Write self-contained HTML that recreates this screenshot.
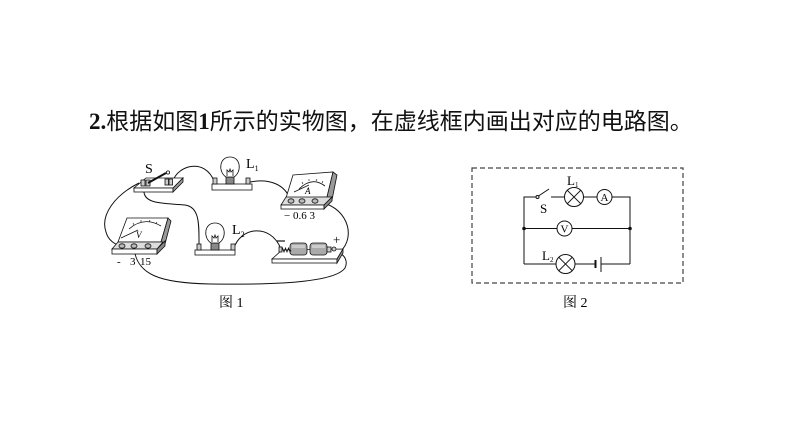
<!DOCTYPE html>
<html>
<head>
<meta charset="utf-8">
<style>
  html,body{margin:0;padding:0;background:#fff;}
  body{width:794px;height:447px;overflow:hidden;}
  svg{display:block;}
  .ser{font-family:"Liberation Serif","Noto Serif CJK SC",serif;}
  .cjk{font-family:"Liberation Sans","Noto Sans CJK SC",sans-serif;}
  .cjks{font-family:"Liberation Serif","Noto Serif CJK SC",serif;}
</style>
</head>
<body>
<svg width="794" height="447" viewBox="0 0 794 447" xmlns="http://www.w3.org/2000/svg">
  <rect width="794" height="447" fill="#fff"/>

  <!-- Title -->
  <text x="89" y="129" font-size="23" fill="#111"><tspan class="ser" font-weight="bold">2.</tspan><tspan class="cjk">根据如图</tspan><tspan class="ser" font-weight="bold">1</tspan><tspan class="cjk">所示的实物图，在虚线框内画出对应的电路图。</tspan></text>

  <!-- ============ Figure 1 ============ -->
  <g fill="none" stroke="#111" stroke-width="1">
    <!-- wires -->
    <path d="M173,181 C178,165 205,158 214,181"/>
    <path d="M250,182 C270,178 285,185 290,199"/>
    <path d="M318,202 C345,205 358,235 340,252"/>
    <path d="M139,183 C115,195 100,215 106,232 C108,240 115,245 122,246"/>
    <path d="M144,189 C142,205 165,203 185,205 C200,207 199,225 199,247"/>
    <path d="M234,248 C240,228 270,222 281,249"/>
    <path d="M134,247 C136,275 160,283 210,284 C280,285 335,282 345,268 C348,262 345,256 341,254"/>
  </g>

  <!-- Switch S -->
  <g stroke="#111" stroke-width="0.8">
    <polygon points="146,178 183,178 173,188 134,188" fill="#fff"/>
    <rect x="134" y="188" width="39" height="4" fill="#fff"/>
    <polygon points="173,188 183,178 183,182 173,192" fill="#999"/>
    <rect x="141" y="180" width="4" height="6" fill="#ccc"/>
    <rect x="146" y="180" width="4" height="6" fill="#ccc"/>
    <rect x="165" y="179" width="3.5" height="6" fill="#ccc"/>
    <rect x="169" y="179" width="3.5" height="6" fill="#ccc"/>
    <line x1="148" y1="183" x2="166" y2="173" stroke-width="2"/>
    <circle cx="168" cy="172.5" r="1.6" fill="#fff"/>
  </g>
  <text x="145" y="173" font-size="14" class="ser">S</text>

  <!-- L1 lamp -->
  <g stroke="#111" stroke-width="0.8">
    <rect x="212" y="184" width="40" height="6" fill="#fff"/>
    <rect x="213" y="178" width="4" height="6" fill="#ccc"/>
    <rect x="246" y="178" width="4" height="6" fill="#ccc"/>
    <rect x="226" y="177" width="8" height="7" fill="#888"/>
    <path d="M226,177 C218,172 219,157 230,157 C241,157 242,172 234,177 Z" fill="#fff"/>
    <path d="M227,176 L227,170 L229,172 L230,169 L231,172 L233,170 L233,176" fill="none"/>
  </g>
  <text x="246" y="168" font-size="14" class="ser">L<tspan font-size="8" dy="3">1</tspan></text>

  <!-- L2 lamp -->
  <g stroke="#111" stroke-width="0.8">
    <rect x="195" y="250" width="40" height="5" fill="#fff"/>
    <rect x="197" y="244" width="4" height="6" fill="#ccc"/>
    <rect x="231" y="244" width="4" height="6" fill="#ccc"/>
    <rect x="211" y="243" width="8" height="7" fill="#888"/>
    <path d="M211,243 C203,238 204,223 215,223 C226,223 227,238 219,243 Z" fill="#fff"/>
    <path d="M212,242 L212,236 L214,238 L215,235 L216,238 L218,236 L218,242" fill="none"/>
  </g>
  <text x="232" y="234" font-size="14" class="ser">L<tspan font-size="8" dy="3">2</tspan></text>

  <!-- Ammeter -->
  <g stroke="#111" stroke-width="0.8">
    <polygon points="293,175 333,172 327,197 286,198" fill="#fff"/>
    <polygon points="333,172 337,175 332,200 327,197" fill="#999"/>
    <polygon points="286,197 332,197 324,205 281,205" fill="#ddd"/>
    <rect x="281" y="205" width="43" height="4" fill="#fff"/>
    <polygon points="324,205 332,197 332,201 324,209" fill="#888"/>
    <ellipse cx="291" cy="201" rx="3" ry="2.2" fill="#bbb"/>
    <ellipse cx="302" cy="201" rx="3" ry="2.2" fill="#bbb"/>
    <ellipse cx="315" cy="201" rx="3" ry="2.2" fill="#bbb"/>
    <path d="M299,189 Q312,176 325,186" fill="none"/>
    <line x1="294" y1="192" x2="309" y2="185"/>
    <g stroke-width="0.6">
      <line x1="303" y1="184" x2="302" y2="182"/>
      <line x1="309" y1="181" x2="309" y2="179"/>
      <line x1="316" y1="181" x2="317" y2="179"/>
      <line x1="322" y1="183" x2="323" y2="181"/>
    </g>
  </g>
  <text x="305" y="194" font-size="9" class="ser" font-style="italic">A</text>
  <text x="284" y="219" font-size="11" class="ser">− 0.6  3</text>

  <!-- Voltmeter -->
  <g stroke="#111" stroke-width="0.8">
    <polygon points="127,218 168,218 161,242 118,242" fill="#fff"/>
    <polygon points="168,218 171,221 165,244 161,242" fill="#999"/>
    <polygon points="118,242 163,242 157,249 112,249" fill="#ddd"/>
    <rect x="112" y="249" width="45" height="5" fill="#fff"/>
    <polygon points="157,249 165,241 165,246 157,254" fill="#888"/>
    <ellipse cx="122" cy="246" rx="3" ry="2.2" fill="#bbb"/>
    <ellipse cx="134" cy="246" rx="3" ry="2.2" fill="#bbb"/>
    <ellipse cx="148" cy="246" rx="3" ry="2.2" fill="#bbb"/>
    <path d="M129,229 Q144,216 161,226" fill="none"/>
    <line x1="121" y1="238" x2="138" y2="230"/>
    <g stroke-width="0.6">
      <line x1="134" y1="225" x2="133" y2="223"/>
      <line x1="141" y1="222" x2="141" y2="220"/>
      <line x1="149" y1="222" x2="150" y2="220"/>
      <line x1="156" y1="224" x2="157" y2="222"/>
    </g>
  </g>
  <text x="136" y="238" font-size="9" class="ser" font-style="italic">V</text>
  <text x="117" y="265" font-size="11" class="ser">-</text>
  <text x="130" y="265" font-size="11" class="ser">3</text>
  <text x="140" y="265" font-size="11" class="ser">15</text>

  <!-- Battery holder -->
  <g stroke="#111" stroke-width="0.8">
    <polygon points="282,250 343,249 337,259 272,259" fill="#fff"/>
    <rect x="272" y="259" width="65" height="4" fill="#fff"/>
    <polygon points="337,259 343,249 343,253 337,263" fill="#999"/>
    <rect x="290" y="243" width="17" height="12" rx="3" fill="#aaa"/>
    <rect x="310" y="243" width="17" height="12" rx="3" fill="#aaa"/>
    <path d="M281,250 l1.5,-2 l1.5,4 l1.5,-4 l1.5,4 l1.5,-4 l1.5,4 l1,-2" fill="none"/>
    <rect x="279" y="247" width="3" height="5" fill="#ccc"/>
    <rect x="327" y="247" width="4" height="5" fill="#ccc"/>
    <circle cx="334" cy="249" r="2" fill="#ccc"/>
  </g>
  <rect x="292" y="245" width="13" height="3" fill="#ccc"/>
  <rect x="312" y="245" width="13" height="3" fill="#ccc"/>
  <line x1="277" y1="241" x2="285" y2="241" stroke="#111" stroke-width="1.2"/>
  <text x="333" y="244" font-size="13" class="ser">+</text>

  <!-- caption fig1 -->
  <text x="219" y="307" font-size="14" class="cjks">图 1</text>

  <!-- ============ Figure 2 ============ -->
  <rect x="472" y="168" width="211" height="115" fill="none" stroke="#444" stroke-width="1.2" stroke-dasharray="5,3"/>
  <g fill="none" stroke="#111" stroke-width="1">
    <!-- top branch -->
    <path d="M524,264 V197 H536"/>
    <circle cx="537.5" cy="197" r="1.5" fill="#fff"/>
    <line x1="538.5" y1="196" x2="549" y2="189"/>
    <path d="M551,197 H564.5"/>
    <circle cx="574" cy="197" r="9.5"/>
    <line x1="567.3" y1="190.3" x2="580.7" y2="203.7"/>
    <line x1="580.7" y1="190.3" x2="567.3" y2="203.7"/>
    <path d="M583.5,197 H597"/>
    <circle cx="604.5" cy="197" r="7.5"/>
    <path d="M612,197 H630 V264"/>
    <!-- middle branch -->
    <path d="M524,228.5 H557"/>
    <circle cx="564.5" cy="228.5" r="7.5"/>
    <path d="M572,228.5 H630"/>
    <!-- bottom branch -->
    <path d="M524,264 H556"/>
    <circle cx="565.5" cy="264" r="9.5"/>
    <line x1="558.8" y1="257.3" x2="572.2" y2="270.7"/>
    <line x1="572.2" y1="257.3" x2="558.8" y2="270.7"/>
    <path d="M575,264 H595"/>
    <line x1="595.5" y1="260" x2="595.5" y2="268" stroke-width="2"/>
    <line x1="601" y1="257" x2="601" y2="272"/>
    <path d="M601,264 H630"/>
  </g>
  <circle cx="524" cy="228.5" r="1.8" fill="#111"/>
  <circle cx="630" cy="228.5" r="1.8" fill="#111"/>
  <text x="540" y="213" font-size="13" class="ser">S</text>
  <text x="567" y="185" font-size="13" class="ser">L<tspan font-size="7" dy="2">1</tspan></text>
  <text x="542" y="260" font-size="13" class="ser">L<tspan font-size="7" dy="2">2</tspan></text>
  <text x="604.5" y="201" font-size="11" class="ser" text-anchor="middle">A</text>
  <text x="564.5" y="232.5" font-size="11" class="ser" text-anchor="middle">V</text>

  <!-- caption fig2 -->
  <text x="563" y="307" font-size="14" class="cjks">图 2</text>
</svg>
</body>
</html>
